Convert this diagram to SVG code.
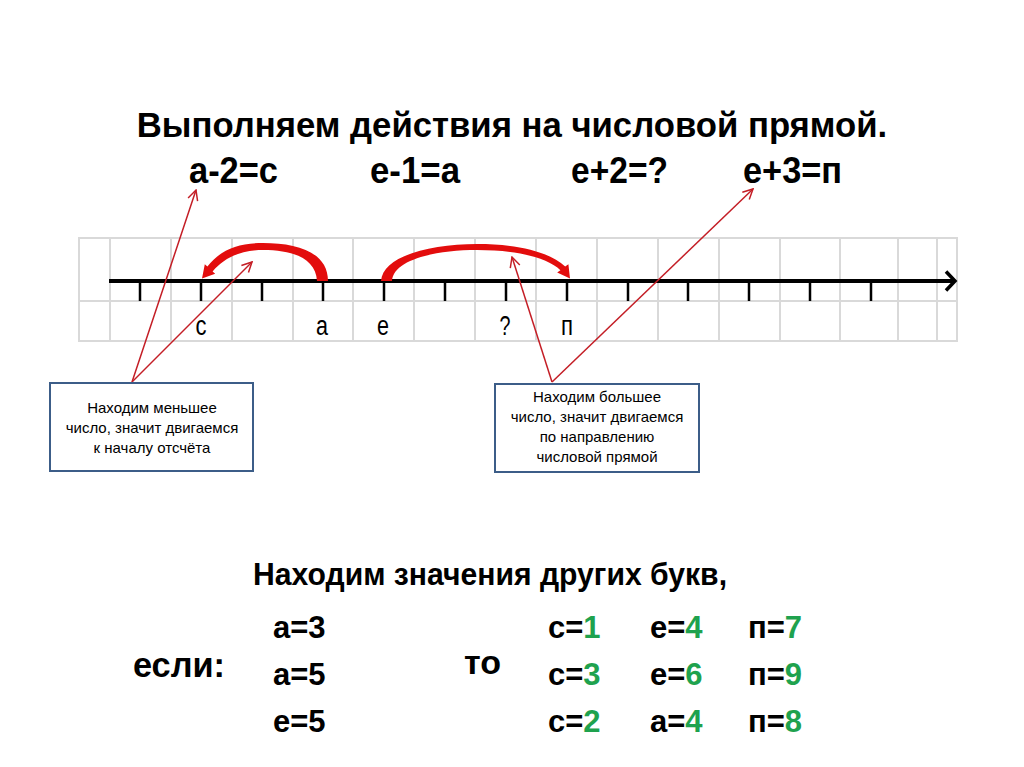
<svg xmlns="http://www.w3.org/2000/svg" width="1024" height="767" viewBox="0 0 1024 767">
<style>
.b{font-family:"Liberation Sans",Arial,sans-serif;font-weight:bold;fill:#000}
.r{font-family:"Liberation Sans",Arial,sans-serif;fill:#000}
.g{fill:#1fa24e}
.grid{stroke:#d9d9d9;stroke-width:2;fill:none}
.tick{stroke:#000;stroke-width:2.5}
.ptr{stroke:#c41e26;stroke-width:1.5;fill:none;marker-end:url(#open)}
.box{fill:#fff;stroke:#3c5d88;stroke-width:2}
.jump{fill:#e30d0d}
</style>
<defs>
<marker id="open" viewBox="0 0 12 12" refX="11" refY="6" markerWidth="12" markerHeight="12" markerUnits="userSpaceOnUse" orient="auto">
<path d="M1,1 L11,6 L1,11" fill="none" stroke="#c41e26" stroke-width="1.5"/>
</marker>
</defs>
<rect width="1024" height="767" fill="#fff"/>

<g id="title">
<text class="b" x="512" y="137" font-size="34.7" text-anchor="middle">Выполняем действия на числовой прямой.</text>
<text class="b" x="189" y="183" font-size="37" textLength="89" lengthAdjust="spacingAndGlyphs">а-2=с</text>
<text class="b" x="370" y="183" font-size="37" textLength="90" lengthAdjust="spacingAndGlyphs">е-1=а</text>
<text class="b" x="571" y="183" font-size="37" textLength="97" lengthAdjust="spacingAndGlyphs">е+2=?</text>
<text class="b" x="743" y="183" font-size="37" textLength="99" lengthAdjust="spacingAndGlyphs">е+3=п</text>
</g>

<g id="number-line">
<g class="grid">
<rect x="79" y="238" width="878" height="103"/>
<path d="M110 238V341M171 238V341M232 238V341M293 238V341M353 238V341M414 238V341M475 238V341M536 238V341M597 238V341M658 238V341M719 238V341M780 238V341M840 238V341M898 238V341M937 238V341M79 301H957"/>
</g>
<line x1="109" y1="281" x2="953" y2="281" stroke="#000" stroke-width="4"/>
<path d="M946 271.5 L955 281 L946 290.5" fill="none" stroke="#000" stroke-width="3.5"/>
<path class="tick" d="M140 281V301M201 281V301M262 281V301M323 281V301M384 281V301M445 281V301M506 281V301M567 281V301M628 281V301M688 281V301M749 281V301M810 281V301M871 281V301"/>
<g class="r" font-size="27" text-anchor="middle">
<text x="201" y="335" textLength="11" lengthAdjust="spacingAndGlyphs">с</text>
<text x="322" y="335" textLength="12" lengthAdjust="spacingAndGlyphs">а</text>
<text x="383" y="335" textLength="12" lengthAdjust="spacingAndGlyphs">е</text>
<text x="505" y="335" textLength="11" lengthAdjust="spacingAndGlyphs">?</text>
<text x="567" y="335" textLength="12" lengthAdjust="spacingAndGlyphs">п</text>
</g>
</g>

<g id="jumps">
<path class="jump" d="M317 281 C316 258,292 250,263 250 C240 250,224 258,212.6 271.4 L215.2 273.7 L202 278.5 L204.8 264.3 L207.4 266.6 C220 250,238 243,263 243 C297 243,328 252,328 281 Z"/>
<path class="jump" d="M381 281 C383 256,430 244,477 244 C518 244,550 252,565.2 266.6 L568.4 264.2 L570 278.5 L557.2 272.6 L560.4 270.2 C548 258,518 250,477 250 C435 250,393 260,392 281 Z"/>
</g>

<g id="connectors">
<line class="ptr" x1="132" y1="382" x2="196" y2="190"/>
<line class="ptr" x1="132" y1="382" x2="252" y2="262"/>
<line class="ptr" x1="552" y1="382" x2="512" y2="257"/>
<line class="ptr" x1="552" y1="382" x2="753" y2="189"/>
</g>

<g id="box-left">
<rect class="box" x="50" y="383" width="203" height="88"/>
<g class="r" font-size="15" text-anchor="middle">
<text x="152" y="413">Находим меньшее</text>
<text x="152" y="433">число, значит двигаемся</text>
<text x="152" y="453">к началу отсчёта</text>
</g>
</g>

<g id="box-right">
<rect class="box" x="495" y="384" width="204" height="88"/>
<g class="r" font-size="15" text-anchor="middle">
<text x="597" y="402">Находим большее</text>
<text x="597" y="422">число, значит двигаемся</text>
<text x="597" y="442">по направлению</text>
<text x="597" y="462">числовой прямой</text>
</g>
</g>

<g id="values">
<text class="b" x="253" y="585" font-size="32" textLength="474" lengthAdjust="spacingAndGlyphs">Находим значения других букв,</text>
<text class="b" x="133" y="677" font-size="35" textLength="92" lengthAdjust="spacingAndGlyphs">если:</text>
<text class="b" x="464" y="674" font-size="33" textLength="37" lengthAdjust="spacingAndGlyphs">то</text>
<g class="b" font-size="31">
<text x="273" y="638">а=3</text>
<text x="273" y="685">а=5</text>
<text x="273" y="732">е=5</text>
<text x="548" y="638">с=<tspan class="g">1</tspan></text>
<text x="650" y="638">е=<tspan class="g">4</tspan></text>
<text x="748" y="638">п=<tspan class="g">7</tspan></text>
<text x="548" y="685">с=<tspan class="g">3</tspan></text>
<text x="650" y="685">е=<tspan class="g">6</tspan></text>
<text x="748" y="685">п=<tspan class="g">9</tspan></text>
<text x="548" y="732">с=<tspan class="g">2</tspan></text>
<text x="650" y="732">а=<tspan class="g">4</tspan></text>
<text x="748" y="732">п=<tspan class="g">8</tspan></text>
</g>
</g>
</svg>
